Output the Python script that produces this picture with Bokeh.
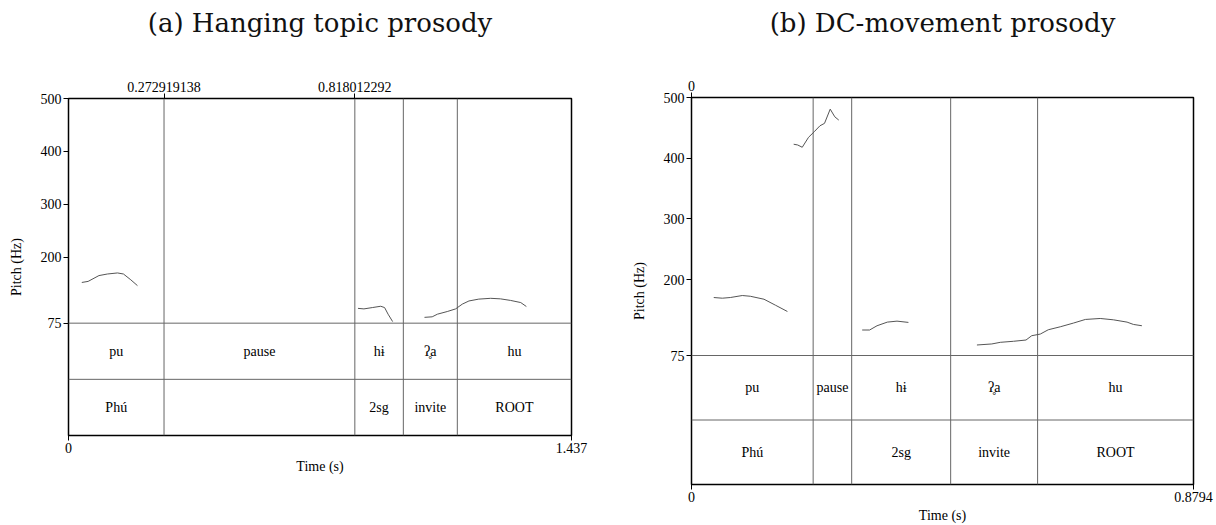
from bokeh.plotting import figure
from bokeh.layouts import row, column
from bokeh.models import Range1d, LinearAxis, FixedTicker, Span, ColumnDataSource
from bokeh.core.properties import value
from bokeh.embed import file_html
from bokeh.resources import INLINE

# ---------------- data ----------------
PITCH_MIN = 75
PITCH_MAX = 500
PITCH_TICKS = [75, 200, 300, 400, 500]

# (a) Hanging topic prosody
a_title = "(a) Hanging topic prosody"
a_end = 1.437
a_bounds = [0.272919138, 0.818012292, 0.9566, 1.1108]
a_top_ticks = [0.272919138, 0.818012292]
a_top_labels = ["0.272919138", "0.818012292"]
a_tier1 = ["pu", "pause", "h\u0268", "\u0294\u0325a", "hu"]
a_tier2 = ["Ph\u00fa", "", "2sg", "invite", "ROOT"]
a_c1_t = [0.038, 0.056, 0.087, 0.111, 0.140, 0.157, 0.178, 0.197]
a_c1_f = [152, 154, 165, 168, 170, 168, 157, 146]
a_c2_t = [0.827, 0.844, 0.868, 0.892, 0.903, 0.913, 0.926]
a_c2_f = [103, 102, 104.5, 107, 104.5, 92, 78]
a_c3_t = [1.017, 1.039, 1.054, 1.082, 1.106, 1.125, 1.144, 1.172, 1.206, 1.234, 1.263, 1.292, 1.308]
a_c3_f = [86, 87, 92, 97, 102, 111, 117, 120.5, 122, 121, 118, 114, 106.5]

# (b) DC-movement prosody
b_title = "(b) DC-movement prosody"
b_end = 0.8794
b_bounds = [0.2131, 0.2806, 0.4540, 0.6063]
b_top_ticks = [0.0]
b_top_labels = ["0"]
b_tier1 = ["pu", "pause", "h\u0268", "\u0294\u0325a", "hu"]
b_tier2 = ["Ph\u00fa", "", "2sg", "invite", "ROOT"]
b_c1_t = [0.039, 0.054, 0.068, 0.089, 0.103, 0.127, 0.147, 0.168]
b_c1_f = [170.5, 169.4, 170.5, 173.8, 172.6, 167.7, 157.9, 147.5]
b_c2_t = [0.179, 0.186, 0.194, 0.205, 0.215, 0.225, 0.233, 0.243, 0.251, 0.258]
b_c2_f = [423, 421.8, 418, 434.4, 443.6, 453.4, 457.4, 480.8, 468.2, 462.8]
b_c3_t = [0.299, 0.312, 0.325, 0.343, 0.360, 0.380]
b_c3_f = [117, 117, 124, 130, 131.6, 129.5]
b_c4_t = [0.500, 0.526, 0.541, 0.564, 0.586, 0.596, 0.611, 0.625, 0.646, 0.669, 0.690, 0.716, 0.739, 0.763, 0.774, 0.789]
b_c4_f = [92.3, 94, 96.7, 98.4, 100.5, 107.6, 110.3, 117.4, 122.3, 128.4, 134.4, 136, 133.8, 130, 126.2, 124]

SERIF = "Liberation Serif"
TITLE_FONT = "DejaVu Serif"
LINE_GRAY = "#666666"
TITLE_H = 44


def make_title(title, frame_w, mb_left, mb_right):
    t = figure(frame_width=frame_w, frame_height=TITLE_H,
               min_border_left=mb_left, min_border_right=mb_right,
               min_border_top=0, min_border_bottom=0,
               x_range=Range1d(0, 1), y_range=Range1d(0, 1),
               output_backend="svg", toolbar_location=None,
               x_axis_location=None, y_axis_location=None)
    t.grid.visible = False
    t.outline_line_color = None
    t.text(x=[0.5], y=[0.5], text=[title], text_align="center", text_baseline="middle",
           text_font=value(TITLE_FONT), text_font_size="26px", text_color="#111111")
    return t


def make_panel(end, bounds, top_ticks, top_labels, tier1, tier2, contours,
               frame_w, frame_h, mb_left, mb_right, mb_top, mb_bottom):
    tier_h = (PITCH_MAX - PITCH_MIN) / 4.0
    y_low = PITCH_MIN - 2 * tier_h
    p = figure(frame_width=frame_w, frame_height=frame_h,
               min_border_left=mb_left, min_border_right=mb_right,
               min_border_top=mb_top, min_border_bottom=mb_bottom,
               x_range=Range1d(0, end), y_range=Range1d(y_low, PITCH_MAX),
               output_backend="svg", toolbar_location=None,
               x_axis_location=None, y_axis_location=None,
               background_fill_color="white", border_fill_color="white")
    p.grid.visible = False
    p.outline_line_color = "black"
    p.outline_line_width = 1.5

    def style(ax):
        ax.major_label_text_font = SERIF
        ax.major_label_text_font_size = "14px"
        ax.major_label_text_color = "black"
        ax.axis_label_text_font = SERIF
        ax.axis_label_text_font_size = "14px"
        ax.axis_label_text_font_style = "normal"
        ax.axis_label_text_color = "black"
        ax.minor_tick_line_color = None
        ax.major_tick_in = 0
        ax.major_tick_out = 5
        ax.major_tick_line_color = "black"
        ax.axis_line_color = None
        ax.major_label_standoff = 2

    left = LinearAxis(ticker=FixedTicker(ticks=PITCH_TICKS), axis_label="Pitch (Hz)")
    style(left)
    left.axis_label_standoff = 14
    left.major_label_overrides = {t: str(t) for t in PITCH_TICKS}
    p.add_layout(left, "left")

    bottom = LinearAxis(ticker=FixedTicker(ticks=[0, end]), axis_label="Time (s)")
    style(bottom)
    bottom.axis_label_standoff = 3
    bottom.major_label_overrides = {0: "0", end: str(end)}
    p.add_layout(bottom, "below")

    top = LinearAxis(ticker=FixedTicker(ticks=top_ticks))
    style(top)
    top.major_label_overrides = {t: l for t, l in zip(top_ticks, top_labels)}
    p.add_layout(top, "above")

    # tier separators
    for yy in [PITCH_MIN, PITCH_MIN - tier_h]:
        p.add_layout(Span(location=yy, dimension="width", line_color=LINE_GRAY, line_width=1))

    # boundaries
    p.segment(x0=bounds, y0=[y_low] * len(bounds), x1=bounds, y1=[PITCH_MAX] * len(bounds),
              line_color=LINE_GRAY, line_width=1)

    # pitch contours
    for ts, fs in contours:
        p.line(ts, fs, line_color="#555555", line_width=1)

    # tier labels
    edges = [0] + list(bounds) + [end]
    mids = [(edges[i] + edges[i + 1]) / 2 for i in range(len(edges) - 1)]
    src = ColumnDataSource(dict(
        x=mids + mids,
        y=[PITCH_MIN - tier_h / 2] * len(mids) + [PITCH_MIN - 1.5 * tier_h] * len(mids),
        t=list(tier1) + list(tier2)))
    p.text(x="x", y="y", text="t", source=src, text_align="center", text_baseline="middle",
           text_font=value(SERIF), text_font_size="14px", text_color="black")
    return p


ta = make_title(a_title, 503, 68, 56)
pa = make_panel(a_end, a_bounds, a_top_ticks, a_top_labels, a_tier1, a_tier2,
                [(a_c1_t, a_c1_f), (a_c2_t, a_c2_f), (a_c3_t, a_c3_f)],
                frame_w=503, frame_h=337, mb_left=68, mb_right=56,
                mb_top=98 - TITLE_H, mb_bottom=40)
tb = make_title(b_title, 502, 64, 23)
pb = make_panel(b_end, b_bounds, b_top_ticks, b_top_labels, b_tier1, b_tier2,
                [(b_c1_t, b_c1_f), (b_c2_t, b_c2_f), (b_c3_t, b_c3_f), (b_c4_t, b_c4_f)],
                frame_w=502, frame_h=387, mb_left=64, mb_right=23,
                mb_top=97 - TITLE_H, mb_bottom=40)

layout = row(column(ta, pa), column(tb, pb))
open("out.html", "w").write(file_html(layout, INLINE))
